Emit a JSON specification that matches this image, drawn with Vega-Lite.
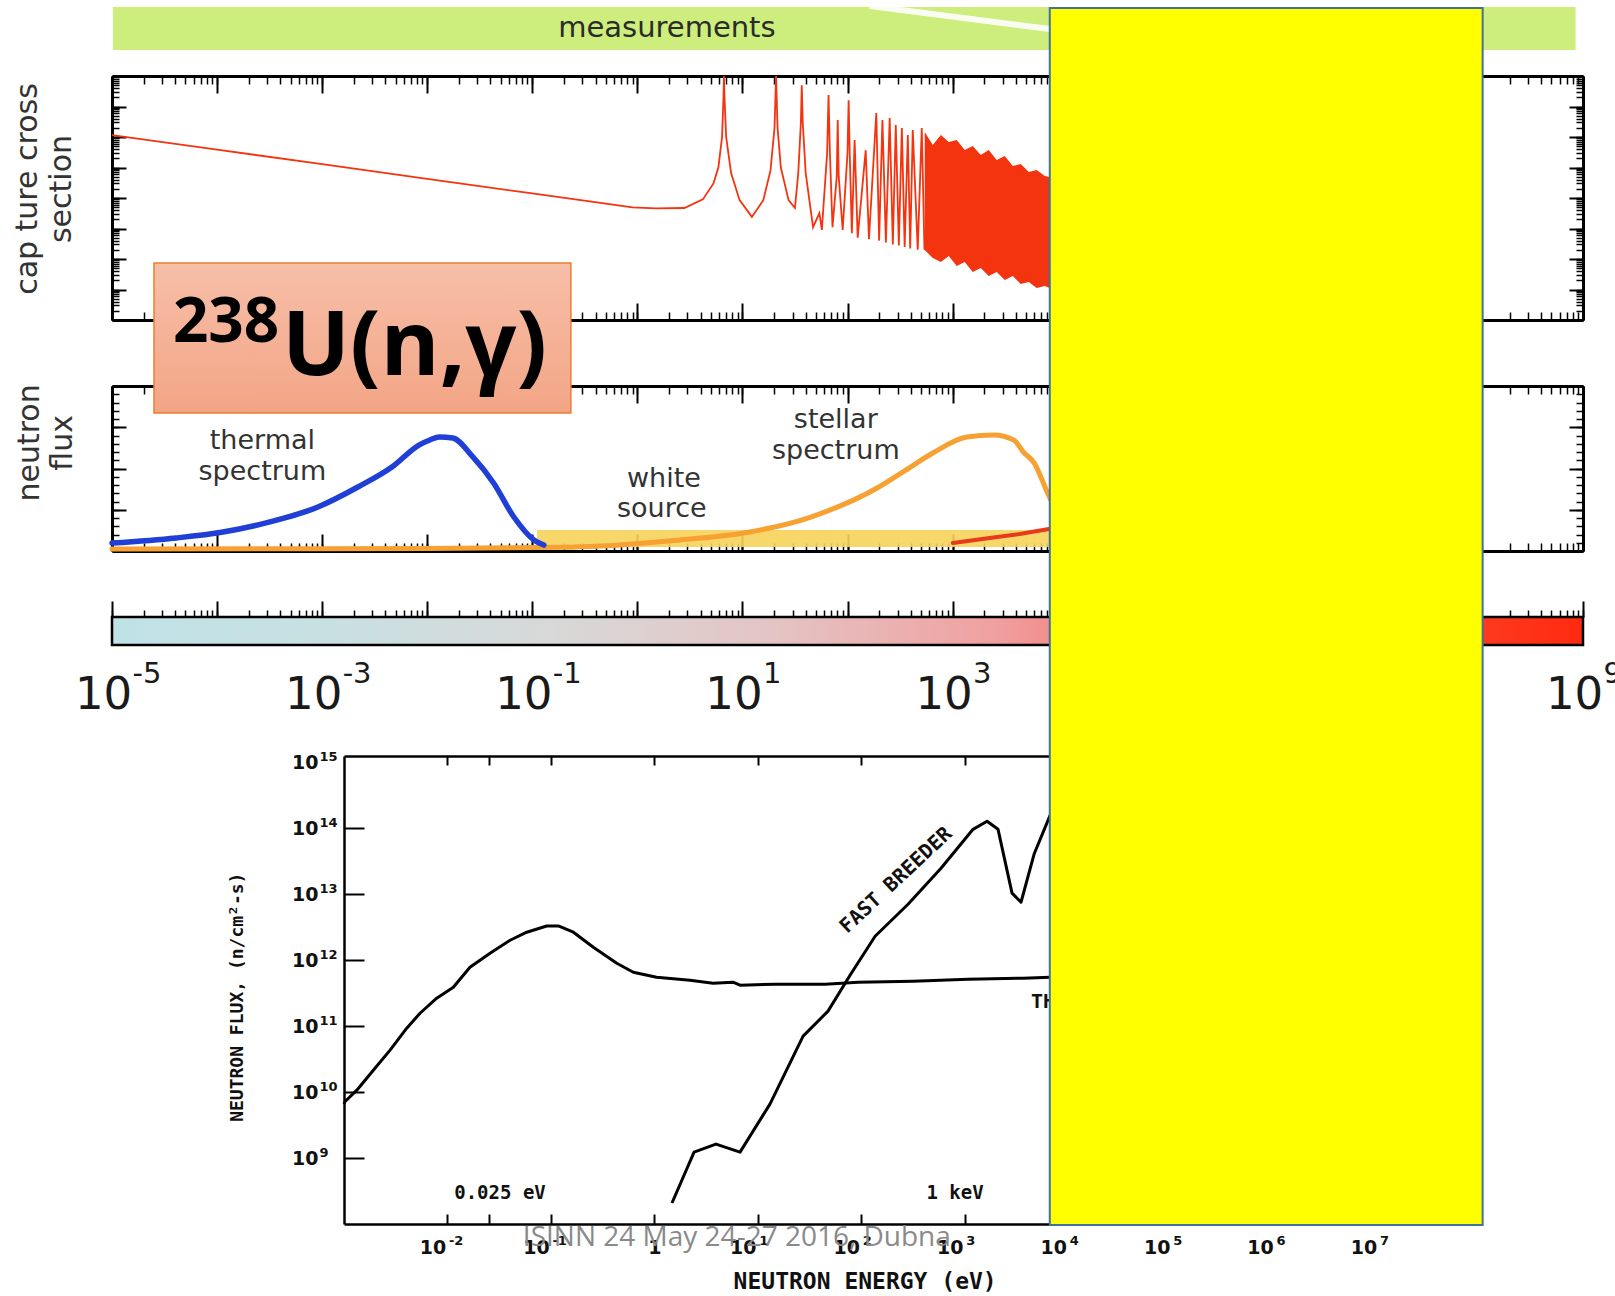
{
"$schema":"https://vega.github.io/schema/vega-lite/v6.json",
"width":1615,"height":1296,"autosize":{"type":"none"},"padding":0,"background":"white",
"config":{"view":{"stroke":null},"font":"DejaVu Sans","axis":{"grid":false,"tickColor":"black","domainColor":"black","labelColor":"#111111"}},
"resolve":{"scale":{"x":"independent","y":"independent"},"axis":{"x":"independent","y":"independent"}},
"datasets":{
"anchor":[{"k":1}],
"banner":[{"Emin":1.02e-5,"Emax":8.5e8,"bottom":0.9614,"top":0.9946}],
"banner_stripe":[{"E":163,"pos":0.9954},{"E":8414,"pos":0.9776}],
"banner_text":[{"label":"measurements","E":1.91,"pos":0.9784}],
"xs_line":[{"E":1e-5,"sigma":116},{"E":1e-4,"sigma":38.6},{"E":1e-3,"sigma":12.8},{"E":0.01,"sigma":4.26},{"E":0.1,"sigma":1.41},{"E":0.9,"sigma":0.49},{"E":1.5,"sigma":0.46},{"E":2.8,"sigma":0.47},{"E":4.2,"sigma":0.9},{"E":5.3,"sigma":3},{"E":5.9,"sigma":10},{"E":6.4,"sigma":100},{"E":6.6,"sigma":2000},{"E":6.67,"sigma":10000},{"E":6.75,"sigma":2000},{"E":7.0,"sigma":100},{"E":7.8,"sigma":6.6},{"E":9.4,"sigma":0.85},{"E":12.3,"sigma":0.24},{"E":15.8,"sigma":0.85},{"E":18.5,"sigma":8},{"E":20.2,"sigma":200},{"E":20.9,"sigma":10000},{"E":21.6,"sigma":200},{"E":23.2,"sigma":10},{"E":27.5,"sigma":0.85},{"E":31.6,"sigma":0.47},{"E":34,"sigma":6.6},{"E":36,"sigma":300},{"E":36.7,"sigma":5000},{"E":37.5,"sigma":300},{"E":40,"sigma":6.6},{"E":47,"sigma":0.11},{"E":54,"sigma":0.32},{"E":57,"sigma":0.09},{"E":64,"sigma":30},{"E":66,"sigma":2400},{"E":68,"sigma":30},{"E":72,"sigma":0.11},{"E":79,"sigma":5},{"E":80.7,"sigma":360},{"E":82.5,"sigma":5},{"E":90,"sigma":0.09},{"E":100,"sigma":30},{"E":102.5,"sigma":1600},{"E":105,"sigma":30},{"E":110,"sigma":0.07},{"E":116.9,"sigma":80},{"E":125,"sigma":0.05},{"E":149,"sigma":37},{"E":160,"sigma":0.045},{"E":188,"sigma":612},{"E":200,"sigma":0.04},{"E":215,"sigma":360},{"E":232,"sigma":0.035},{"E":252,"sigma":420},{"E":270,"sigma":0.03},{"E":288,"sigma":247},{"E":308,"sigma":0.028},{"E":329,"sigma":197},{"E":350,"sigma":0.025},{"E":375,"sigma":116},{"E":395,"sigma":0.022},{"E":418,"sigma":170},{"E":466,"sigma":0.02},{"E":509,"sigma":197},{"E":540,"sigma":0.02}],
"xs_grass":[{"E":543,"top":146,"bottom":0.0197},{"E":648,"top":54.7,"bottom":0.0108},{"E":773,"top":116,"bottom":0.008},{"E":920,"top":68.5,"bottom":0.0125},{"E":1096,"top":79.8,"bottom":0.0059},{"E":1306,"top":37.5,"bottom":0.008},{"E":1556,"top":50.7,"bottom":0.00375},{"E":1854,"top":25.7,"bottom":0.00507},{"E":2208,"top":37.5,"bottom":0.00277},{"E":2630,"top":17.6,"bottom":0.00375},{"E":3141,"top":23.8,"bottom":0.00205},{"E":3741,"top":11.2,"bottom":0.00277},{"E":4457,"top":13,"bottom":0.00151},{"E":5309,"top":7.1,"bottom":0.00176},{"E":6324,"top":8.3,"bottom":0.00112},{"E":7534,"top":5.3,"bottom":0.0013},{"E":9376,"top":4.5,"bottom":0.00096}],
"xs_titles":[{"label":"cap ture cross","E":1.59e-6,"sigma":1.97},{"label":"section","E":3.34e-6,"sigma":1.97}],
"thermal_flux":[{"E":1e-5,"flux":0.048},{"E":4.07e-5,"flux":0.079},{"E":1.14e-4,"flux":0.115},{"E":3.18e-4,"flux":0.176},{"E":9.12e-4,"flux":0.267},{"E":2.19e-3,"flux":0.388},{"E":4.62e-3,"flux":0.509},{"E":8.34e-3,"flux":0.642},{"E":0.0106,"flux":0.673},{"E":0.0131,"flux":0.691},{"E":0.0175,"flux":0.685},{"E":0.0272,"flux":0.57},{"E":0.0428,"flux":0.412},{"E":0.0668,"flux":0.206},{"E":0.1035,"flux":0.067},{"E":0.129,"flux":0.036}],
"stellar_flux":[{"E":1e-5,"flux":0.012},{"E":0.01,"flux":0.015},{"E":0.2,"flux":0.022},{"E":0.44,"flux":0.03},{"E":2.54,"flux":0.067},{"E":10.3,"flux":0.109},{"E":44.8,"flux":0.206},{"E":199,"flux":0.388},{"E":359,"flux":0.49},{"E":648,"flux":0.594},{"E":1365,"flux":0.691},{"E":2466,"flux":0.703},{"E":3822,"flux":0.673},{"E":4710,"flux":0.6},{"E":5990,"flux":0.533},{"E":7870,"flux":0.364},{"E":10470,"flux":0.19}],
"fast_tail":[{"E":1005,"flux":0.048},{"E":2260,"flux":0.079},{"E":4355,"flux":0.103},{"E":9376,"flux":0.139},{"E":30000,"flux":0.2}],
"white_source":[{"Emin":0.111,"Emax":1.1e8,"lo":0.024,"hi":0.127}],
"flux_labels":[{"label":"thermal","E":2.7e-4,"flux":0.667},{"label":"spectrum","E":2.7e-4,"flux":0.479},{"label":"white","E":1.79,"flux":0.436},{"label":"source","E":1.71,"flux":0.255},{"label":"stellar","E":77.4,"flux":0.794},{"label":"spectrum","E":77.4,"flux":0.606}],
"flux_titles":[{"label":"neutron","E":1.66e-6,"flux":0.655},{"label":"flux","E":3.42e-6,"flux":0.655}],
"colorbar":[{"Emin":1e-5,"Emax":1e9,"lo":0,"hi":1}],
"reactor":[
{"spectrum":"thermal","E":0.001,"flux":6.6e9},{"spectrum":"thermal","E":0.00102,"flux":7.13e9},{"spectrum":"thermal","E":0.00133,"flux":1.07e10},{"spectrum":"thermal","E":0.00192,"flux":2.15e10},{"spectrum":"thermal","E":0.00279,"flux":4.33e10},{"spectrum":"thermal","E":0.00404,"flux":9.33e10},{"spectrum":"thermal","E":0.00543,"flux":1.57e11},{"spectrum":"thermal","E":0.00787,"flux":2.66e11},{"spectrum":"thermal","E":0.0114,"flux":3.9e11},{"spectrum":"thermal","E":0.0165,"flux":7.83e11},{"spectrum":"thermal","E":0.0258,"flux":1.28e12},{"spectrum":"thermal","E":0.0403,"flux":2.01e12},{"spectrum":"thermal","E":0.0584,"flux":2.66e12},{"spectrum":"thermal","E":0.091,"flux":3.31e12},{"spectrum":"thermal","E":0.118,"flux":3.31e12},{"spectrum":"thermal","E":0.165,"flux":2.66e12},{"spectrum":"thermal","E":0.257,"flux":1.57e12},{"spectrum":"thermal","E":0.433,"flux":9.0e11},{"spectrum":"thermal","E":0.626,"flux":6.58e11},{"spectrum":"thermal","E":1.05,"flux":5.52e11},{"spectrum":"thermal","E":2.21,"flux":4.98e11},{"spectrum":"thermal","E":3.69,"flux":4.49e11},{"spectrum":"thermal","E":5.75,"flux":4.64e11},{"spectrum":"thermal","E":6.73,"flux":4.18e11},{"spectrum":"thermal","E":15,"flux":4.33e11},{"spectrum":"thermal","E":27.4,"flux":4.33e11},{"spectrum":"thermal","E":44.7,"flux":4.33e11},{"spectrum":"thermal","E":93.1,"flux":4.64e11},{"spectrum":"thermal","E":316,"flux":4.81e11},{"spectrum":"thermal","E":1076,"flux":5.15e11},{"spectrum":"thermal","E":3664,"flux":5.33e11},{"spectrum":"thermal","E":6683,"flux":5.52e11},{"spectrum":"thermal","E":20000,"flux":5.6e11},
{"spectrum":"fast","E":1.48,"flux":2.08e8},{"spectrum":"fast","E":2.42,"flux":1.23e9},{"spectrum":"fast","E":3.94,"flux":1.63e9},{"spectrum":"fast","E":6.73,"flux":1.23e9},{"spectrum":"fast","E":13.1,"flux":6.58e9},{"spectrum":"fast","E":27.4,"flux":7.05e10},{"spectrum":"fast","E":47.7,"flux":1.69e11},{"spectrum":"fast","E":77.9,"flux":5.93e11},{"spectrum":"fast","E":136,"flux":2.31e12},{"spectrum":"fast","E":283,"flux":7.05e12},{"spectrum":"fast","E":590,"flux":2.48e13},{"spectrum":"fast","E":1203,"flux":9.66e13},{"spectrum":"fast","E":1644,"flux":1.28e14},{"spectrum":"fast","E":2099,"flux":9.66e13},{"spectrum":"fast","E":2866,"flux":1.04e13},{"spectrum":"fast","E":3500,"flux":7.57e12},{"spectrum":"fast","E":4677,"flux":4.04e13},{"spectrum":"fast","E":6683,"flux":1.57e14},{"spectrum":"fast","E":8343,"flux":3.77e14}],
"reactor_notes":[{"label":"0.025  eV","E":0.0322,"flux":2.95e8},{"label":"1  keV","E":805,"flux":2.95e8}],
"reactor_xtitle":[{"label":"NEUTRON  ENERGY  (eV)","E":109,"flux":1.32e7}],
"reactor_ytitle":[{"label":"NEUTRON FLUX,  (n/cm²-s)","E":9.4e-5,"flux":2.75e11}],
"reactor_fast_label":[{"label":"FAST BREEDER","E":217,"flux":1.63e13}],
"reactor_thermal_label":[{"label":"THERMAL","E":4375,"flux":2.31e11}],
"title_box":[{"Emin":2.51e-5,"Emax":0.233,"bottom":0.6813,"top":0.7971}],
"title_mass":[{"label":"238","E":3.8e-5,"pos":0.7361}],
"title_reaction":[{"label":"U(n,γ)","E":4.145e-4,"pos":0.7106}],
"cover":[{"Emin":8414,"Emax":1.109e8,"bottom":0.0548,"top":0.9938}],
"footer":[{"label":"ISINN 24 May 24-27 2016, Dubna","E":6.27,"y":6.14e7}]
},
"layer":[
{"data":{"name":"banner"},"mark":{"type":"rect","color":"#cdee7c"},"encoding":{"x":{"field":"Emin","type":"quantitative","scale":{"type":"log","domain":[1e-5,1e9],"range":[112,1583],"nice":false},"axis":null},"x2":{"field":"Emax"},"y":{"field":"bottom","type":"quantitative","scale":{"type":"linear","domain":[0,1],"range":[1296,0],"nice":false,"zero":false},"axis":null},"y2":{"field":"top"}}},
{"data":{"name":"banner_stripe"},"mark":{"type":"line","color":"white","strokeWidth":6,"opacity":0.9},"encoding":{"x":{"field":"E","type":"quantitative","scale":{"type":"log","domain":[1e-5,1e9],"range":[112,1583],"nice":false},"axis":null},"y":{"field":"pos","type":"quantitative","scale":{"type":"linear","domain":[0,1],"range":[1296,0],"nice":false,"zero":false},"axis":null}}},
{"data":{"name":"banner_text"},"mark":{"type":"text","font":"DejaVu Sans","fontSize":29,"color":"#2b2b2b","align":"center","baseline":"middle"},"encoding":{"x":{"field":"E","type":"quantitative","scale":{"type":"log","domain":[1e-5,1e9],"range":[112,1583],"nice":false},"axis":null},"y":{"field":"pos","type":"quantitative","scale":{"type":"linear","domain":[0,1],"range":[1296,0],"nice":false,"zero":false},"axis":null},"text":{"field":"label","type":"nominal"}}},

{"data":{"name":"anchor"},"mark":{"type":"point","opacity":0},"encoding":{"x":{"datum":1,"type":"quantitative","scale":{"type":"log","domain":[1e-5,1e9],"range":[112,1583],"nice":false},"axis":{"orient":"bottom","offset":-976,"tickCount":100,"labels":false,"tickSize":-8,"tickWidth":1.5,"domainWidth":3,"title":null}},"y":{"datum":1,"type":"quantitative","scale":{"type":"log","domain":[1e-4,1e4],"range":[320,76],"nice":false},"axis":{"orient":"left","offset":-112,"tickCount":50,"labels":false,"tickSize":-7,"tickWidth":1.5,"domainWidth":3,"title":null}}}},
{"data":{"name":"anchor"},"mark":{"type":"point","opacity":0},"encoding":{"x":{"datum":1,"type":"quantitative","scale":{"type":"log","domain":[1e-5,1e9],"range":[112,1583],"nice":false},"axis":{"orient":"top","offset":-76,"tickCount":100,"labels":false,"tickSize":-8,"tickWidth":1.5,"domainWidth":3,"title":null}},"y":{"datum":1,"type":"quantitative","scale":{"type":"log","domain":[1e-4,1e4],"range":[320,76],"nice":false},"axis":{"orient":"right","offset":-32,"tickCount":50,"labels":false,"tickSize":-7,"tickWidth":1.5,"domainWidth":3,"title":null}}}},
{"data":{"name":"anchor"},"mark":{"type":"point","opacity":0},"encoding":{"x":{"datum":1,"type":"quantitative","scale":{"type":"log","domain":[1e-5,1e9],"range":[112,1583],"nice":false},"axis":{"orient":"bottom","offset":-976,"values":[1e-5,1e-4,1e-3,0.01,0.1,1,10,100,1000,1e4,1e5,1e6,1e7,1e8,1e9],"labels":false,"tickSize":-17,"tickWidth":2,"domain":false,"title":null}},"y":{"datum":1,"type":"quantitative","scale":{"type":"log","domain":[1e-4,1e4],"range":[320,76],"nice":false},"axis":{"orient":"left","offset":-112,"values":[1e-4,1e-3,0.01,0.1,1,10,100,1000,1e4],"labels":false,"tickSize":-14,"tickWidth":2,"domain":false,"title":null}}}},
{"data":{"name":"anchor"},"mark":{"type":"point","opacity":0},"encoding":{"x":{"datum":1,"type":"quantitative","scale":{"type":"log","domain":[1e-5,1e9],"range":[112,1583],"nice":false},"axis":{"orient":"top","offset":-76,"values":[1e-5,1e-4,1e-3,0.01,0.1,1,10,100,1000,1e4,1e5,1e6,1e7,1e8,1e9],"labels":false,"tickSize":-17,"tickWidth":2,"domain":false,"title":null}},"y":{"datum":1,"type":"quantitative","scale":{"type":"log","domain":[1e-4,1e4],"range":[320,76],"nice":false},"axis":{"orient":"right","offset":-32,"values":[1e-4,1e-3,0.01,0.1,1,10,100,1000,1e4],"labels":false,"tickSize":-14,"tickWidth":2,"domain":false,"title":null}}}},

{"data":{"name":"xs_grass"},"mark":{"type":"area","color":"#f4330f","opacity":1},"encoding":{"x":{"field":"E","type":"quantitative","scale":{"type":"log","domain":[1e-5,1e9],"range":[112,1583],"nice":false},"axis":null},"y":{"field":"top","type":"quantitative","scale":{"type":"log","domain":[1e-4,1e4],"range":[320,76],"nice":false},"axis":null},"y2":{"field":"bottom"}}},
{"data":{"name":"xs_line"},"mark":{"type":"line","color":"#f4330f","strokeWidth":1.8},"encoding":{"x":{"field":"E","type":"quantitative","scale":{"type":"log","domain":[1e-5,1e9],"range":[112,1583],"nice":false},"axis":null},"y":{"field":"sigma","type":"quantitative","scale":{"type":"log","domain":[1e-4,1e4],"range":[320,76],"nice":false},"axis":null}}},
{"data":{"name":"xs_titles"},"mark":{"type":"text","angle":270,"font":"DejaVu Sans","fontSize":30,"color":"#333333","align":"center","baseline":"middle"},"encoding":{"x":{"field":"E","type":"quantitative","scale":{"type":"log","domain":[1e-5,1e9],"range":[112,1583],"nice":false},"axis":null},"y":{"field":"sigma","type":"quantitative","scale":{"type":"log","domain":[1e-4,1e4],"range":[320,76],"nice":false},"axis":null},"text":{"field":"label","type":"nominal"}}},

{"data":{"name":"anchor"},"mark":{"type":"point","opacity":0},"encoding":{"x":{"datum":1,"type":"quantitative","scale":{"type":"log","domain":[1e-5,1e9],"range":[112,1583],"nice":false},"axis":{"orient":"bottom","offset":-745,"tickCount":100,"labels":false,"tickSize":-8,"tickWidth":1.5,"domainWidth":3,"title":null}},"y":{"datum":0.5,"type":"quantitative","scale":{"type":"linear","domain":[0,1],"range":[551,386],"nice":false,"zero":false},"axis":{"orient":"left","offset":-112,"tickCount":20,"labels":false,"tickSize":-7,"tickWidth":1.5,"domainWidth":3,"title":null}}}},
{"data":{"name":"anchor"},"mark":{"type":"point","opacity":0},"encoding":{"x":{"datum":1,"type":"quantitative","scale":{"type":"log","domain":[1e-5,1e9],"range":[112,1583],"nice":false},"axis":{"orient":"top","offset":-386,"tickCount":100,"labels":false,"tickSize":-8,"tickWidth":1.5,"domainWidth":3,"title":null}},"y":{"datum":0.5,"type":"quantitative","scale":{"type":"linear","domain":[0,1],"range":[551,386],"nice":false,"zero":false},"axis":{"orient":"right","offset":-32,"tickCount":20,"labels":false,"tickSize":-7,"tickWidth":1.5,"domainWidth":3,"title":null}}}},
{"data":{"name":"anchor"},"mark":{"type":"point","opacity":0},"encoding":{"x":{"datum":1,"type":"quantitative","scale":{"type":"log","domain":[1e-5,1e9],"range":[112,1583],"nice":false},"axis":{"orient":"bottom","offset":-745,"values":[1e-5,1e-4,1e-3,0.01,0.1,1,10,100,1000,1e4,1e5,1e6,1e7,1e8,1e9],"labels":false,"tickSize":-17,"tickWidth":2,"domain":false,"title":null}},"y":{"datum":0.5,"type":"quantitative","scale":{"type":"linear","domain":[0,1],"range":[551,386],"nice":false,"zero":false},"axis":{"orient":"left","offset":-112,"values":[0,0.25,0.5,0.75,1],"labels":false,"tickSize":-14,"tickWidth":2,"domain":false,"title":null}}}},
{"data":{"name":"anchor"},"mark":{"type":"point","opacity":0},"encoding":{"x":{"datum":1,"type":"quantitative","scale":{"type":"log","domain":[1e-5,1e9],"range":[112,1583],"nice":false},"axis":{"orient":"top","offset":-386,"values":[1e-5,1e-4,1e-3,0.01,0.1,1,10,100,1000,1e4,1e5,1e6,1e7,1e8,1e9],"labels":false,"tickSize":-17,"tickWidth":2,"domain":false,"title":null}},"y":{"datum":0.5,"type":"quantitative","scale":{"type":"linear","domain":[0,1],"range":[551,386],"nice":false,"zero":false},"axis":{"orient":"right","offset":-32,"values":[0,0.25,0.5,0.75,1],"labels":false,"tickSize":-14,"tickWidth":2,"domain":false,"title":null}}}},

{"data":{"name":"white_source"},"mark":{"type":"rect","color":"#f6d35a","opacity":0.9},"encoding":{"x":{"field":"Emin","type":"quantitative","scale":{"type":"log","domain":[1e-5,1e9],"range":[112,1583],"nice":false},"axis":null},"x2":{"field":"Emax"},"y":{"field":"lo","type":"quantitative","scale":{"type":"linear","domain":[0,1],"range":[551,386],"nice":false,"zero":false},"axis":null},"y2":{"field":"hi"}}},
{"data":{"name":"stellar_flux"},"mark":{"type":"line","color":"#f6a132","strokeWidth":5,"strokeCap":"round","strokeJoin":"round","interpolate":"monotone"},"encoding":{"x":{"field":"E","type":"quantitative","scale":{"type":"log","domain":[1e-5,1e9],"range":[112,1583],"nice":false},"axis":null},"y":{"field":"flux","type":"quantitative","scale":{"type":"linear","domain":[0,1],"range":[551,386],"nice":false,"zero":false},"axis":null}}},
{"data":{"name":"fast_tail"},"mark":{"type":"line","color":"#e8391c","strokeWidth":4,"strokeCap":"round"},"encoding":{"x":{"field":"E","type":"quantitative","scale":{"type":"log","domain":[1e-5,1e9],"range":[112,1583],"nice":false},"axis":null},"y":{"field":"flux","type":"quantitative","scale":{"type":"linear","domain":[0,1],"range":[551,386],"nice":false,"zero":false},"axis":null}}},
{"data":{"name":"thermal_flux"},"mark":{"type":"line","color":"#1f3fd6","strokeWidth":5.5,"strokeCap":"round","strokeJoin":"round","interpolate":"monotone"},"encoding":{"x":{"field":"E","type":"quantitative","scale":{"type":"log","domain":[1e-5,1e9],"range":[112,1583],"nice":false},"axis":null},"y":{"field":"flux","type":"quantitative","scale":{"type":"linear","domain":[0,1],"range":[551,386],"nice":false,"zero":false},"axis":null}}},
{"data":{"name":"flux_labels"},"mark":{"type":"text","font":"DejaVu Sans","fontSize":27,"color":"#333333","align":"center","baseline":"middle"},"encoding":{"x":{"field":"E","type":"quantitative","scale":{"type":"log","domain":[1e-5,1e9],"range":[112,1583],"nice":false},"axis":null},"y":{"field":"flux","type":"quantitative","scale":{"type":"linear","domain":[0,1],"range":[551,386],"nice":false,"zero":false},"axis":null},"text":{"field":"label","type":"nominal"}}},
{"data":{"name":"flux_titles"},"mark":{"type":"text","angle":270,"font":"DejaVu Sans","fontSize":30,"color":"#333333","align":"center","baseline":"middle"},"encoding":{"x":{"field":"E","type":"quantitative","scale":{"type":"log","domain":[1e-5,1e9],"range":[112,1583],"nice":false},"axis":null},"y":{"field":"flux","type":"quantitative","scale":{"type":"linear","domain":[0,1],"range":[551,386],"nice":false,"zero":false},"axis":null},"text":{"field":"label","type":"nominal"}}},

{"data":{"name":"colorbar"},"mark":{"type":"rect","stroke":"black","strokeWidth":2.5,"fill":{"gradient":"linear","x1":0,"y1":0,"x2":1,"y2":0,"stops":[{"offset":0,"color":"#bfe2e7"},{"offset":0.15,"color":"#c9e0e2"},{"offset":0.3,"color":"#d8d8d8"},{"offset":0.45,"color":"#e4c4c4"},{"offset":0.6,"color":"#f0a0a0"},{"offset":0.65,"color":"#f38a88"},{"offset":0.8,"color":"#fa5a48"},{"offset":0.93,"color":"#fd3a1e"},{"offset":1,"color":"#ff2a10"}]}},"encoding":{"x":{"field":"Emin","type":"quantitative","scale":{"type":"log","domain":[1e-5,1e9],"range":[112,1583],"nice":false},"axis":null},"x2":{"field":"Emax"},"y":{"field":"lo","type":"quantitative","scale":{"type":"linear","domain":[0,1],"range":[645,617],"nice":false,"zero":false},"axis":null},"y2":{"field":"hi"}}},
{"data":{"name":"anchor"},"mark":{"type":"point","opacity":0},"encoding":{"x":{"datum":1,"type":"quantitative","scale":{"type":"log","domain":[1e-5,1e9],"range":[112,1583],"nice":false},"axis":{"orient":"top","offset":-617,"tickCount":100,"labels":false,"tickSize":7,"tickWidth":1.5,"domainWidth":3,"title":null}},"y":{"datum":0.5,"type":"quantitative","scale":{"type":"linear","domain":[0,1],"range":[645,617],"nice":false,"zero":false},"axis":null}}},
{"data":{"name":"anchor"},"mark":{"type":"point","opacity":0},"encoding":{"x":{"datum":1,"type":"quantitative","scale":{"type":"log","domain":[1e-5,1e9],"range":[112,1583],"nice":false},"axis":{"orient":"top","offset":-617,"values":[1e-5,1e-4,1e-3,0.01,0.1,1,10,100,1000,1e4,1e5,1e6,1e7,1e8,1e9],"labels":false,"tickSize":16,"tickWidth":2,"domain":false,"title":null}},"y":{"datum":0.5,"type":"quantitative","scale":{"type":"linear","domain":[0,1],"range":[645,617],"nice":false,"zero":false},"axis":null}}},
{"data":{"name":"anchor"},"mark":{"type":"point","opacity":0},"encoding":{"x":{"datum":1,"type":"quantitative","scale":{"type":"log","domain":[1e-5,1e9],"range":[112,1583],"nice":false},"axis":{"orient":"bottom","offset":-651,"values":[1e-5,1e-3,0.1,10,1000,1e5,1e7,1e9],"ticks":false,"tickSize":0,"domain":false,"labels":true,"labelExpr":"'10'","labelFont":"DejaVu Sans","labelFontSize":45,"labelColor":"#1a1a1a","labelPadding":63,"labelOffset":-9,"labelAlign":"center","labelBaseline":"alphabetic","labelOverlap":false,"labelFlush":false,"title":null}},"y":{"datum":0.5,"type":"quantitative","scale":{"type":"linear","domain":[0,1],"range":[645,617],"nice":false,"zero":false},"axis":null}}},
{"data":{"name":"anchor"},"mark":{"type":"point","opacity":0},"encoding":{"x":{"datum":1,"type":"quantitative","scale":{"type":"log","domain":[1e-5,1e9],"range":[112,1583],"nice":false},"axis":{"orient":"bottom","offset":-651,"values":[1e-5,1e-3,0.1,10,1000,1e5,1e7,1e9],"ticks":false,"tickSize":0,"domain":false,"labels":true,"labelExpr":"'' + round(log(datum.value)/LN10)","labelFont":"DejaVu Sans","labelFontSize":29,"labelColor":"#1a1a1a","labelPadding":37,"labelOffset":20,"labelAlign":"left","labelBaseline":"alphabetic","labelOverlap":false,"labelFlush":false,"title":null}},"y":{"datum":0.5,"type":"quantitative","scale":{"type":"linear","domain":[0,1],"range":[645,617],"nice":false,"zero":false},"axis":null}}},

{"data":{"name":"anchor"},"mark":{"type":"point","opacity":0},"encoding":{"x":{"datum":1,"type":"quantitative","scale":{"type":"log","domain":[1e-3,1e8],"range":[344,1482],"nice":false},"axis":{"orient":"bottom","offset":-72,"values":[0.01,0.025,0.1,1,10,100,1000,1e4,1e5,1e6,1e7],"labels":false,"tickSize":-10,"tickWidth":2,"domainWidth":2.5,"title":null}},"y":{"datum":1e10,"type":"quantitative","scale":{"type":"log","domain":[1e8,1.25e15],"range":[1224,756],"nice":false},"axis":{"orient":"left","offset":-344,"values":[1e9,1e10,1e11,1e12,1e13,1e14],"labels":false,"tickSize":-20,"tickWidth":2,"domainWidth":2.5,"title":null}}}},
{"data":{"name":"anchor"},"mark":{"type":"point","opacity":0},"encoding":{"x":{"datum":1,"type":"quantitative","scale":{"type":"log","domain":[1e-3,1e8],"range":[344,1482],"nice":false},"axis":{"orient":"top","offset":-756,"values":[0.01,0.025,0.1,1,10,100,1000,1e4,1e5,1e6,1e7],"labels":false,"tickSize":-9,"tickWidth":2,"domainWidth":2.5,"title":null}},"y":{"datum":1e10,"type":"quantitative","scale":{"type":"log","domain":[1e8,1.25e15],"range":[1224,756],"nice":false},"axis":null}}},
{"data":{"name":"anchor"},"mark":{"type":"point","opacity":0},"encoding":{"x":{"datum":1,"type":"quantitative","scale":{"type":"log","domain":[1e-3,1e8],"range":[344,1482],"nice":false},"axis":{"orient":"bottom","offset":-72,"values":[0.01,0.1,1,10,100,1000,1e4,1e5,1e6,1e7],"ticks":false,"tickSize":0,"domain":false,"labelExpr":"datum.value == 1 ? '1' : '10'","labelOffset":{"condition":{"test":"datum.value == 1","value":0},"value":-15},"labelFont":"DejaVu Sans","labelFontWeight":"bold","labelFontSize":19,"labelPadding":23,"labelBaseline":"middle","labelAlign":"center","labelFlush":false,"labelOverlap":false,"title":null}},"y":{"datum":1e10,"type":"quantitative","scale":{"type":"log","domain":[1e8,1.25e15],"range":[1224,756],"nice":false},"axis":{"orient":"left","offset":-344,"values":[1e9,1e10,1e11,1e12,1e13,1e14,1e15],"ticks":false,"tickSize":0,"domain":false,"labelExpr":"'10'","labelFont":"DejaVu Sans","labelFontWeight":"bold","labelFontSize":19,"labelPadding":26,"labelAlign":"right","labelBaseline":"middle","labelOverlap":false,"labelFlush":false,"title":null}}}},
{"data":{"name":"anchor"},"mark":{"type":"point","opacity":0},"encoding":{"x":{"datum":1,"type":"quantitative","scale":{"type":"log","domain":[1e-3,1e8],"range":[344,1482],"nice":false},"axis":{"orient":"bottom","offset":-72,"values":[0.01,0.1,10,100,1000,1e4,1e5,1e6,1e7],"ticks":false,"tickSize":0,"domain":false,"labelExpr":"'' + round(log(datum.value)/LN10)","labelOffset":1,"labelFont":"DejaVu Sans","labelFontWeight":"bold","labelFontSize":13,"labelPadding":16,"labelBaseline":"middle","labelAlign":"left","labelFlush":false,"labelOverlap":false,"title":null}},"y":{"datum":1e10,"type":"quantitative","scale":{"type":"log","domain":[1e8,1.25e15],"range":[1224,756],"nice":false},"axis":{"orient":"left","offset":-344,"values":[1e9,1e10,1e11,1e12,1e13,1e14,1e15],"ticks":false,"tickSize":0,"domain":false,"labelExpr":"'' + round(log(datum.value)/LN10)","labelFont":"DejaVu Sans","labelFontWeight":"bold","labelFontSize":13,"labelPadding":25,"labelOffset":-6,"labelAlign":"left","labelBaseline":"middle","labelOverlap":false,"labelFlush":false,"title":null}}}},
{"data":{"name":"reactor"},"mark":{"type":"line","color":"black","strokeWidth":3,"strokeJoin":"round"},"encoding":{"x":{"field":"E","type":"quantitative","scale":{"type":"log","domain":[1e-3,1e8],"range":[344,1482],"nice":false},"axis":null},"y":{"field":"flux","type":"quantitative","scale":{"type":"log","domain":[1e8,1.25e15],"range":[1224,756],"nice":false},"axis":null},"detail":{"field":"spectrum","type":"nominal"}}},
{"data":{"name":"reactor_notes"},"mark":{"type":"text","font":"DejaVu Sans Mono","fontWeight":"bold","fontSize":19,"color":"#111111","align":"center","baseline":"middle"},"encoding":{"x":{"field":"E","type":"quantitative","scale":{"type":"log","domain":[1e-3,1e8],"range":[344,1482],"nice":false},"axis":null},"y":{"field":"flux","type":"quantitative","scale":{"type":"log","domain":[1e8,1.25e15],"range":[1224,756],"nice":false},"axis":null},"text":{"field":"label","type":"nominal"}}},
{"data":{"name":"reactor_xtitle"},"mark":{"type":"text","font":"DejaVu Sans Mono","fontWeight":"bold","fontSize":23,"color":"#111111","align":"center","baseline":"middle"},"encoding":{"x":{"field":"E","type":"quantitative","scale":{"type":"log","domain":[1e-3,1e8],"range":[344,1482],"nice":false},"axis":null},"y":{"field":"flux","type":"quantitative","scale":{"type":"log","domain":[1e8,1.25e15],"range":[1224,756],"nice":false},"axis":null},"text":{"field":"label","type":"nominal"}}},
{"data":{"name":"reactor_ytitle"},"mark":{"type":"text","angle":270,"font":"DejaVu Sans Mono","fontWeight":"bold","fontSize":18,"color":"#111111","align":"center","baseline":"middle"},"encoding":{"x":{"field":"E","type":"quantitative","scale":{"type":"log","domain":[1e-3,1e8],"range":[344,1482],"nice":false},"axis":null},"y":{"field":"flux","type":"quantitative","scale":{"type":"log","domain":[1e8,1.25e15],"range":[1224,756],"nice":false},"axis":null},"text":{"field":"label","type":"nominal"}}},
{"data":{"name":"reactor_fast_label"},"mark":{"type":"text","angle":317,"font":"DejaVu Sans Mono","fontWeight":"bold","fontSize":20,"color":"#111111","align":"center","baseline":"middle"},"encoding":{"x":{"field":"E","type":"quantitative","scale":{"type":"log","domain":[1e-3,1e8],"range":[344,1482],"nice":false},"axis":null},"y":{"field":"flux","type":"quantitative","scale":{"type":"log","domain":[1e8,1.25e15],"range":[1224,756],"nice":false},"axis":null},"text":{"field":"label","type":"nominal"}}},
{"data":{"name":"reactor_thermal_label"},"mark":{"type":"text","font":"DejaVu Sans Mono","fontWeight":"bold","fontSize":20,"color":"#111111","align":"left","baseline":"middle"},"encoding":{"x":{"field":"E","type":"quantitative","scale":{"type":"log","domain":[1e-3,1e8],"range":[344,1482],"nice":false},"axis":null},"y":{"field":"flux","type":"quantitative","scale":{"type":"log","domain":[1e8,1.25e15],"range":[1224,756],"nice":false},"axis":null},"text":{"field":"label","type":"nominal"}}},

{"data":{"name":"title_box"},"mark":{"type":"rect","stroke":"#ed7d31","strokeWidth":1.5,"fill":{"gradient":"linear","x1":0,"y1":0,"x2":0,"y2":1,"stops":[{"offset":0,"color":"#f6bfa8"},{"offset":1,"color":"#f3a586"}]}},"encoding":{"x":{"field":"Emin","type":"quantitative","scale":{"type":"log","domain":[1e-5,1e9],"range":[112,1583],"nice":false},"axis":null},"x2":{"field":"Emax"},"y":{"field":"bottom","type":"quantitative","scale":{"type":"linear","domain":[0,1],"range":[1296,0],"nice":false,"zero":false},"axis":null},"y2":{"field":"top"}}},
{"data":{"name":"title_mass"},"mark":{"type":"text","font":"Open Sans","fontWeight":"bold","fontSize":62,"color":"black","align":"left","baseline":"alphabetic"},"encoding":{"x":{"field":"E","type":"quantitative","scale":{"type":"log","domain":[1e-5,1e9],"range":[112,1583],"nice":false},"axis":null},"y":{"field":"pos","type":"quantitative","scale":{"type":"linear","domain":[0,1],"range":[1296,0],"nice":false,"zero":false},"axis":null},"text":{"field":"label","type":"nominal"}}},
{"data":{"name":"title_reaction"},"mark":{"type":"text","font":"Open Sans","fontWeight":"bold","fontSize":90,"color":"black","align":"left","baseline":"alphabetic"},"encoding":{"x":{"field":"E","type":"quantitative","scale":{"type":"log","domain":[1e-5,1e9],"range":[112,1583],"nice":false},"axis":null},"y":{"field":"pos","type":"quantitative","scale":{"type":"linear","domain":[0,1],"range":[1296,0],"nice":false,"zero":false},"axis":null},"text":{"field":"label","type":"nominal"}}},
{"data":{"name":"cover"},"mark":{"type":"rect","fill":"#ffff00","stroke":"#41719c","strokeWidth":2},"encoding":{"x":{"field":"Emin","type":"quantitative","scale":{"type":"log","domain":[1e-5,1e9],"range":[112,1583],"nice":false},"axis":null},"x2":{"field":"Emax"},"y":{"field":"bottom","type":"quantitative","scale":{"type":"linear","domain":[0,1],"range":[1296,0],"nice":false,"zero":false},"axis":null},"y2":{"field":"top"}}},
{"data":{"name":"footer"},"mark":{"type":"text","font":"Open Sans","fontSize":28,"color":"#8a8a8a","align":"center","baseline":"middle"},"encoding":{"x":{"field":"E","type":"quantitative","scale":{"type":"log","domain":[1e-3,1e8],"range":[344,1482],"nice":false},"axis":null},"y":{"field":"y","type":"quantitative","scale":{"type":"log","domain":[1e8,1.25e15],"range":[1224,756],"nice":false},"axis":null},"text":{"field":"label","type":"nominal"}}}
]
}
